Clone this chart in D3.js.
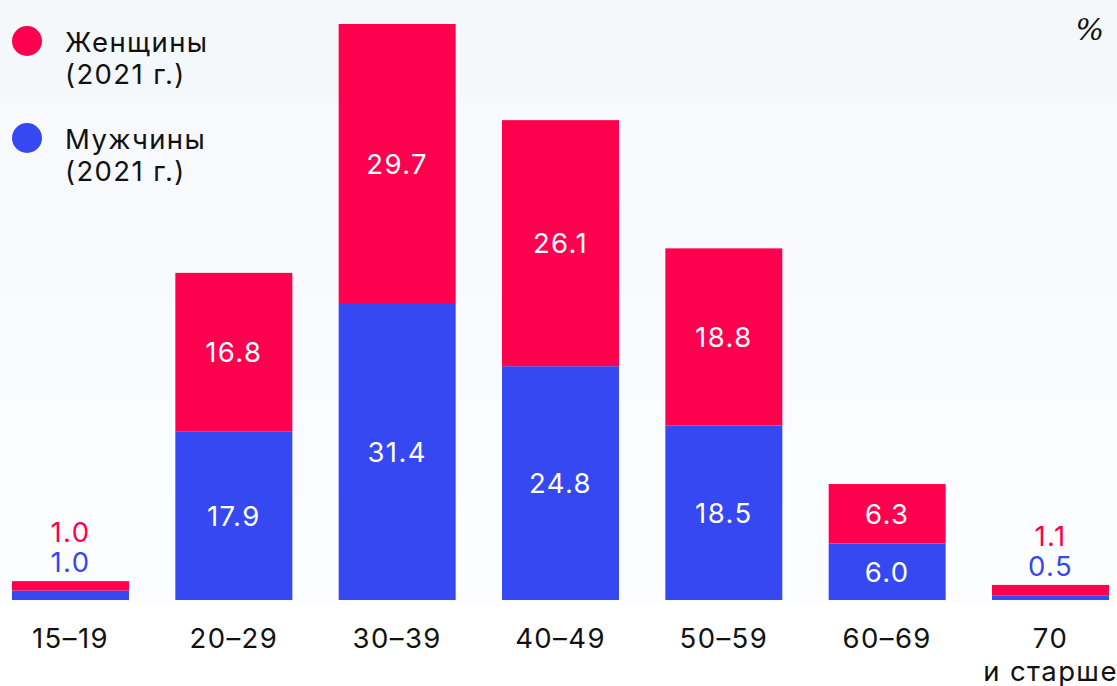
<!DOCTYPE html>
<html><head><meta charset="utf-8">
<script src="https://cdn.jsdelivr.net/npm/d3@7"></script>
<style>html,body{margin:0;padding:0;background:#fff;}svg{display:block;font-family:Inter,"Noto Sans",sans-serif;}</style>
</head><body>
<svg id="c" width="1117" height="686"></svg>
<script>
const categories = ["15–19","20–29","30–39","40–49","50–59","60–69","70"];
const categoryLine2 = ["","","","","","","и старше"];
const men = [1.0, 17.9, 31.4, 24.8, 18.5, 6.0, 0.5];
const women = [1.0, 16.8, 29.7, 26.1, 18.8, 6.3, 1.1];
const seriesNames = ["Женщины", "Мужчины"];
const seriesSub = "(2021 г.)";
const unitLabel = "%";

const RED = "#ff004f", BLUE = "#3548f1";
const svg = d3.select("#c");
const W = 1117, H = 686;

// background bands
const bandCols = ["#f5f8fb","#f7f9fd","#f9fafe","#fafbfe","#fbfcff","#fcfdff"];
const bandEdges = [0,98,197,298,400,501,603];
svg.selectAll("rect.bg").data(bandCols).join("rect")
  .attr("x",0).attr("width",W)
  .attr("y",(d,i)=>bandEdges[i]).attr("height",(d,i)=>bandEdges[i+1]-bandEdges[i])
  .attr("fill",d=>d);

const x = d3.scaleBand().domain(categories).range([12,1109]).paddingInner(0.2837).paddingOuter(0);
const y = d3.scaleLinear().domain([0,61.1]).range([600,24]);

const data = categories.map((c,i)=>({c, m:men[i], w:women[i], l2:categoryLine2[i]}));

const g = svg.append("g").attr("letter-spacing","1.4px");
g.selectAll("rect.m").data(data).join("rect")
  .attr("x",d=>x(d.c)).attr("width",x.bandwidth())
  .attr("y",d=>y(d.m)).attr("height",d=>y(0)-y(d.m)).attr("fill",BLUE);
g.selectAll("rect.w").data(data).join("rect")
  .attr("x",d=>x(d.c)).attr("width",x.bandwidth())
  .attr("y",d=>y(d.m+d.w)).attr("height",d=>y(d.m)-y(d.m+d.w)).attr("fill",RED);

const fs = 27.5;
const fmt = d3.format(".1f");
data.forEach(d=>{
  const cx = x(d.c)+x.bandwidth()/2;
  if (d.m+d.w > 5) {
    g.append("text").attr("x",cx).attr("y",(y(d.m)+y(0))/2).attr("dy","0.36em")
      .attr("text-anchor","middle").attr("fill","#fff").attr("font-size",fs).text(fmt(d.m));
    g.append("text").attr("x",cx).attr("y",(y(d.m+d.w)+y(d.m))/2).attr("dy","0.36em")
      .attr("text-anchor","middle").attr("fill","#fff").attr("font-size",fs).text(fmt(d.w));
  } else {
    const top = y(d.m+d.w);
    g.append("text").attr("x",cx).attr("y",top-9)
      .attr("text-anchor","middle").attr("fill",BLUE).attr("font-size",fs).text(fmt(d.m));
    g.append("text").attr("x",cx).attr("y",top-39)
      .attr("text-anchor","middle").attr("fill",RED).attr("font-size",fs).text(fmt(d.w));
  }
  const t = g.append("text").attr("x",cx).attr("y",648).attr("text-anchor","middle")
    .attr("fill","#111").attr("font-size",fs);
  t.append("tspan").attr("x",cx).text(d.c);
  if (d.l2) t.append("tspan").attr("x",cx).attr("dy",33).text(d.l2);
});

// legend
const leg = svg.append("g").attr("letter-spacing","1.4px");
[[RED,41,52],[BLUE,138,149]].forEach((p,i)=>{
  leg.append("circle").attr("cx",27).attr("cy",p[1]).attr("r",15).attr("fill",p[0]);
  const t = leg.append("text").attr("x",65).attr("y",p[2]).attr("fill","#111").attr("font-size",fs);
  t.append("tspan").attr("x",65).text(seriesNames[i]);
  t.append("tspan").attr("x",65).attr("dy",32).text(seriesSub);
});

svg.append("text").attr("x",1104).attr("y",40).attr("text-anchor","end")
  .attr("font-size",30).attr("font-style","italic").attr("fill","#111")
  .attr("font-family","'DejaVu Serif',serif").text(unitLabel);
</script>
</body></html>
